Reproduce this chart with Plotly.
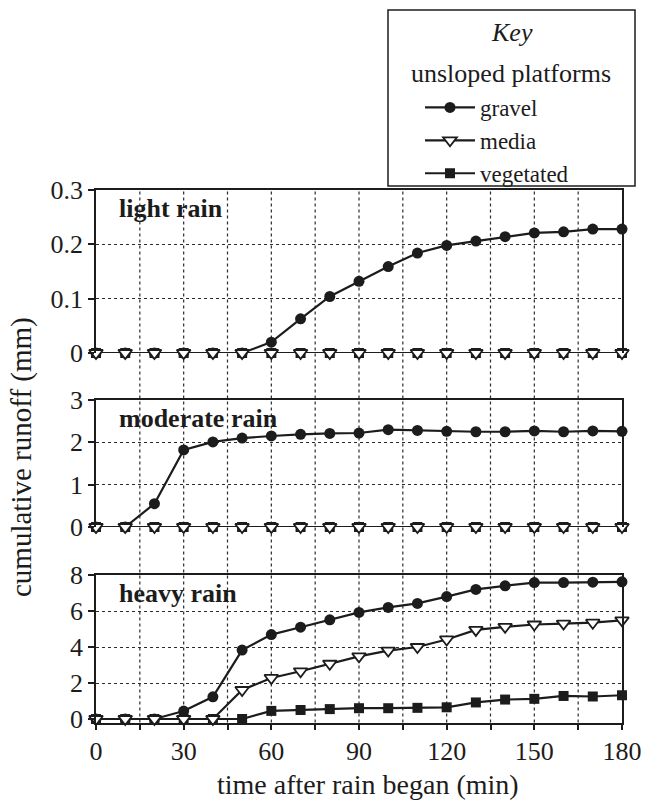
import plotly.graph_objects as go

# ---------------- data ----------------
time_min = [0, 10, 20, 30, 40, 50, 60, 70, 80, 90, 100, 110, 120, 130, 140, 150, 160, 170, 180]

light_gravel = [0, 0, 0, 0, 0, 0, 0.02, 0.063, 0.104, 0.132, 0.159, 0.184, 0.198, 0.206, 0.214, 0.221, 0.223, 0.228, 0.228]
light_media = [0, 0, 0, 0, 0, 0, 0, 0, 0, 0, 0, 0, 0, 0, 0, 0, 0, 0, 0]
light_vegetated = [0, 0, 0, 0, 0, 0, 0, 0, 0, 0, 0, 0, 0, 0, 0, 0, 0, 0, 0]

moderate_gravel = [0, 0, 0.55, 1.82, 2.01, 2.10, 2.15, 2.19, 2.21, 2.22, 2.30, 2.28, 2.26, 2.25, 2.25, 2.27, 2.25, 2.27, 2.26]
moderate_media = [0, 0, 0, 0, 0, 0, 0, 0, 0, 0, 0, 0, 0, 0, 0, 0, 0, 0, 0]
moderate_vegetated = [0, 0, 0, 0, 0, 0, 0, 0, 0, 0, 0, 0, 0, 0, 0, 0, 0, 0, 0]

heavy_gravel = [0, 0, 0, 0.44, 1.23, 3.83, 4.69, 5.10, 5.51, 5.92, 6.20, 6.42, 6.80, 7.20, 7.40, 7.58, 7.58, 7.60, 7.62]
heavy_media = [0, 0, 0, 0, 0, 1.61, 2.28, 2.65, 3.07, 3.48, 3.80, 4.00, 4.42, 4.95, 5.12, 5.25, 5.30, 5.35, 5.48]
heavy_vegetated = [0, 0, 0, 0, 0, 0, 0.45, 0.50, 0.55, 0.60, 0.60, 0.62, 0.65, 0.92, 1.08, 1.12, 1.28, 1.25, 1.32]

panel_names = ["light rain", "moderate rain", "heavy rain"]
series_names = ["gravel", "media", "vegetated"]
key_title = "Key"
key_subtitle = "unsloped platforms"
x_title = "time after rain began (min)"
y_title = "cumulative runoff (mm)"

x_tick_vals = [0, 30, 60, 90, 120, 150, 180]
x_minor_vals = [15, 45, 75, 105, 135, 165]
x_grid_vals = [15, 30, 45, 60, 75, 90, 105, 120, 135, 150, 165]

light_ticks = [0, 0.1, 0.2, 0.3]
light_ticktext = ["0", "0.1", "0.2", "0.3"]
moderate_ticks = [0, 1, 2, 3]
heavy_ticks = [0, 2, 4, 6, 8]

# ---------------- layout helpers ----------------
W, H = 649, 801
FONT = "Liberation Serif, Times New Roman, serif"
INK = "#1c1c1c"


def fx(p):
    return p / W


def fy(p):
    return 1 - p / H


X_LEFT, X_RIGHT = 96, 622
LIGHT_PX = (190, 353)
MOD_PX = (400, 527)
HEAVY_PX = (575, 722.6)

fig = go.Figure()

styles = {
    "gravel": dict(symbol="circle", size=11, color=INK, line=dict(width=0)),
    "media": dict(symbol="triangle-down", size=12, color="white", line=dict(color=INK, width=1.8)),
    "vegetated": dict(symbol="square", size=10, color=INK, line=dict(width=0)),
}
rank = {"gravel": 1, "media": 2, "vegetated": 3}

panels = [
    ("x", "y", {"gravel": light_gravel, "media": light_media, "vegetated": light_vegetated}, False),
    ("x2", "y2", {"gravel": moderate_gravel, "media": moderate_media, "vegetated": moderate_vegetated}, False),
    ("x3", "y3", {"gravel": heavy_gravel, "media": heavy_media, "vegetated": heavy_vegetated}, True),
]

for xa, ya, data, show in panels:
    for name in ["gravel", "vegetated", "media"]:
        fig.add_trace(go.Scatter(
            x=time_min, y=data[name], xaxis=xa, yaxis=ya,
            mode="lines+markers", name=name,
            line=dict(color=INK, width=2.2),
            marker=styles[name],
            cliponaxis=False,
            showlegend=show, legendgroup=name, legendrank=rank[name],
        ))

axis_common = dict(
    range=[0, 180], domain=[fx(X_LEFT), fx(X_RIGHT)],
    showgrid=False, zeroline=False, showline=True, linecolor=INK, linewidth=1.5,
    automargin=False,
)
fig.update_layout(
    xaxis=dict(axis_common, anchor="y", side="top", showticklabels=False, ticks=""),
    xaxis2=dict(axis_common, anchor="y2", side="top", showticklabels=False, ticks=""),
    xaxis3=dict(axis_common, anchor="y3", side="bottom", mirror=True,
                tickvals=x_tick_vals, ticks="outside", ticklen=6, tickwidth=1.5, tickcolor=INK,
                ticklabelstandoff=-2,
                minor=dict(tickvals=x_minor_vals, ticks="outside", ticklen=6, tickwidth=1.5, tickcolor=INK),
                tickfont=dict(family=FONT, size=26, color=INK)),
)

y_common = dict(
    showline=True, mirror=True, linecolor=INK, linewidth=1.5,
    ticks="outside", ticklen=6, tickwidth=1.5, tickcolor=INK,
    showgrid=False, zeroline=False, automargin=False,
    tickfont=dict(family=FONT, size=26, color=INK),
)
grid_minor = dict(ticks="", showgrid=True, gridcolor="#2a2a2a", gridwidth=1.2, griddash="3px,3px")
fig.update_layout(
    yaxis=dict(y_common, anchor="x", range=[0, 0.3], domain=[fy(LIGHT_PX[1]), fy(LIGHT_PX[0])],
               tickvals=light_ticks, ticktext=light_ticktext,
               minor=dict(grid_minor, tickvals=[0.1, 0.2])),
    yaxis2=dict(y_common, anchor="x2", range=[0, 3], domain=[fy(MOD_PX[1]), fy(MOD_PX[0])],
                tickvals=moderate_ticks, minor=dict(grid_minor, tickvals=[1, 2])),
    yaxis3=dict(y_common, anchor="x3", range=[-0.2, 8], domain=[fy(HEAVY_PX[1]), fy(HEAVY_PX[0])],
                tickvals=heavy_ticks, minor=dict(grid_minor, tickvals=[2, 4, 6])),
)

# vertical dashed grid running through all three panels
for gx in x_grid_vals:
    fig.add_shape(type="line", xref="x3", yref="paper", x0=gx, x1=gx,
                  y0=fy(HEAVY_PX[1]), y1=fy(LIGHT_PX[0]),
                  line=dict(color="#2a2a2a", width=1.2, dash="3px,3px"), layer="below")

# panel labels
for (xa, ya, _, _), label in zip(panels, panel_names):
    fig.add_annotation(text="<b>%s</b>" % label, xref=xa + " domain", yref=ya + " domain",
                       x=0.04, y=1, xanchor="left", yanchor="middle", yshift=-18,
                       showarrow=False, font=dict(family=FONT, size=26, color=INK))

# axis titles
fig.add_annotation(text=x_title, xref="paper", yref="paper",
                   x=fx(368), y=fy(784), xanchor="center", yanchor="middle",
                   showarrow=False, font=dict(family=FONT, size=28, color=INK))
fig.add_annotation(text=y_title, xref="paper", yref="paper",
                   x=fx(22), y=fy(457), xanchor="center", yanchor="middle", textangle=-90,
                   showarrow=False, font=dict(family=FONT, size=29, color=INK))

# key box
fig.add_shape(type="rect", xref="paper", yref="paper",
              x0=fx(388), x1=fx(635), y0=fy(186), y1=fy(10),
              line=dict(color=INK, width=1.5), fillcolor="white", layer="above")
fig.add_annotation(text="<i>%s</i>" % key_title, xref="paper", yref="paper",
                   x=fx(512), y=fy(33), xanchor="center", yanchor="middle",
                   showarrow=False, font=dict(family=FONT, size=26, color=INK))
fig.add_annotation(text=key_subtitle, xref="paper", yref="paper",
                   x=fx(511), y=fy(73), xanchor="center", yanchor="middle",
                   showarrow=False, font=dict(family=FONT, size=26, color=INK))

fig.update_layout(
    width=W, height=H,
    margin=dict(l=0, r=0, t=0, b=0),
    paper_bgcolor="white", plot_bgcolor="rgba(0,0,0,0)",
    font=dict(family=FONT, color=INK),
    legend=dict(
        x=fx(420), y=fy(86), xanchor="left", yanchor="top",
        bgcolor="rgba(0,0,0,0)", borderwidth=0,
        font=dict(family=FONT, size=23, color=INK),
        itemwidth=50, tracegroupgap=0,
    ),
)

fig.write_html("out.html")
